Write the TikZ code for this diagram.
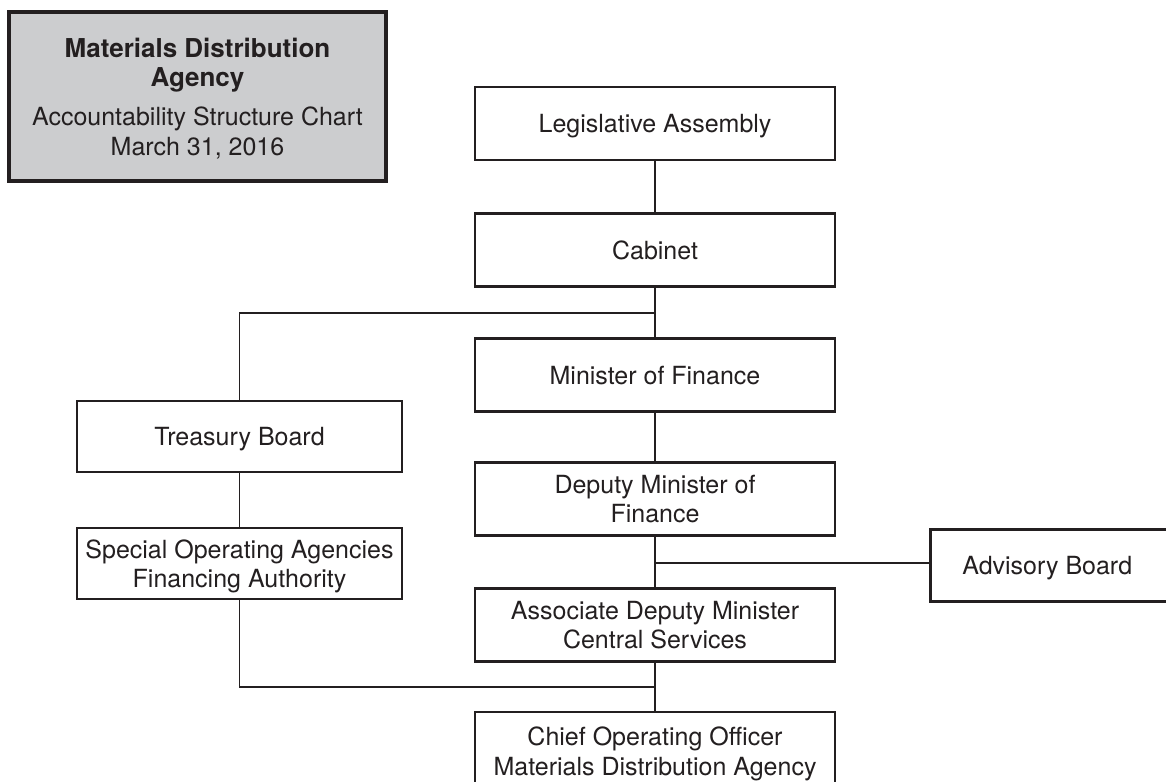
\documentclass[tikz,border=0pt]{standalone}
\usepackage{fontspec}
\setmainfont{TeX Gyre Heros}
\definecolor{ink}{RGB}{35,31,32}
\definecolor{titlegray}{RGB}{204,205,207}
\newcommand{\titlebf}{\fontsize{26}{30}\selectfont\bfseries}
\newcommand{\titlerm}{\fontsize{25}{31}\selectfont\mdseries}
\begin{document}
\begin{tikzpicture}[x=1pt,y=-1pt,
  box/.style={draw=ink, line width=2.5pt, fill=white, text=ink, inner sep=0pt,
    align=center, text depth=0pt, font=\fontsize{25}{29.5}\selectfont},
  mainbox/.style={box, minimum width=360pt, minimum height=73pt},
  sidebox/.style={box, minimum width=325pt, minimum height=71pt},
  conn/.style={draw=ink, line width=1.3pt}]
\useasboundingbox (0,0) rectangle (1166,781);
% title
\node[draw=ink, line width=4pt, fill=titlegray, text=ink, minimum width=377pt,
  minimum height=169pt, inner sep=0pt, align=center, text depth=0pt,
  font=\titlebf] (title) at (197.5,96.5)
  {Materials Distribution\\[-1pt]Agency\\[9pt]\titlerm Accountability Structure Chart\\\titlerm March 31, 2016};
% main column
\node[mainbox] (leg) at (655,123.5) {Legislative Assembly};
\node[mainbox] (cab) at (655,250) {Cabinet};
\node[mainbox] (mof) at (655,375) {Minister of Finance};
\node[mainbox] (dmf) at (655,499) {Deputy Minister of\\Finance};
\node[mainbox] (adm) at (655,625) {Associate Deputy Minister\\Central Services};
\node[mainbox, minimum height=78pt] (coo) at (655,751)
  {Chief Operating Officer\\Materials Distribution Agency};
% left column
\node[sidebox] (tb) at (239.5,436.5) {Treasury Board};
\node[sidebox] (soa) at (239.5,563.5) {Special Operating Agencies\\Financing Authority};
% right
\node[box, minimum width=241pt, minimum height=72pt, anchor=west] (adv) at (929,565.5)
  {\hspace*{-7pt}Advisory Board};
% junctions
\coordinate (j1) at (655,313);
\coordinate (j2) at (655,563);
\coordinate (j3) at (655,687);
% connectors
\draw[conn] (leg) -- (cab);
\draw[conn] (cab) -- (mof);
\draw[conn] (j1) -| (tb.north);
\draw[conn] (mof) -- (dmf);
\draw[conn] (tb) -- (soa);
\draw[conn] (dmf) -- (adm);
\draw[conn] (j2) -- (j2 -| adv.west);
\draw[conn] (adm) -- (coo);
\draw[conn] (soa.south) |- (j3);
\end{tikzpicture}
\end{document}
